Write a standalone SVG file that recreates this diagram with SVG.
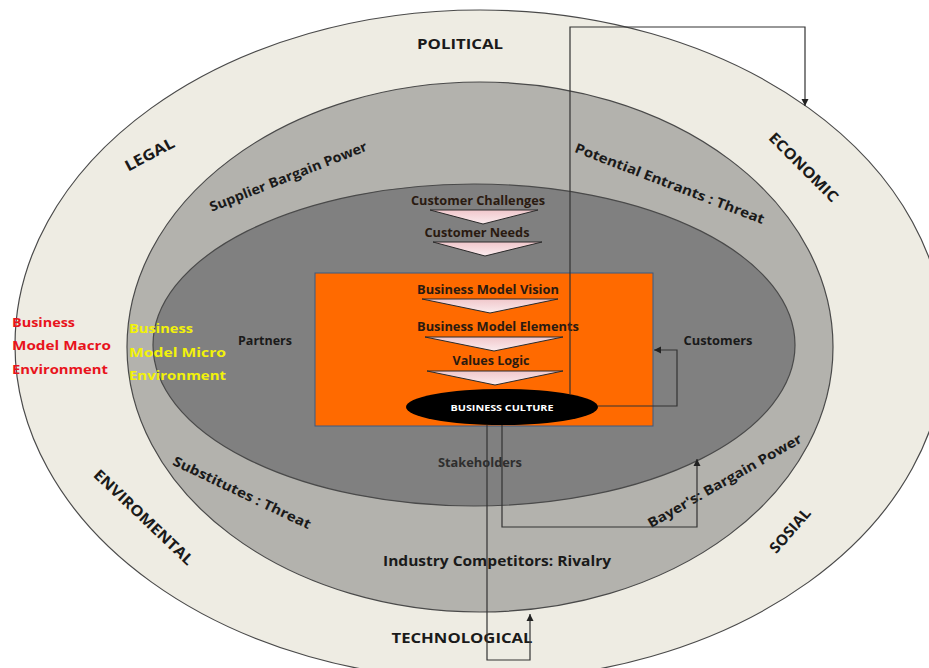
<svg xmlns="http://www.w3.org/2000/svg" width="929" height="668" viewBox="0 0 929 668">
  <style>
    .ring { stroke: #4a4a4a; stroke-width: 1.2; }
    .lbl { font-family: "Open Sans", "Liberation Sans", sans-serif; font-weight: bold; fill: #1a1a1a; text-anchor: middle; }
    .big { font-size: 15px; }
    .mid { font-size: 13.5px; }
    .sm { font-size: 12px; }
    .flow { font-size: 12px; fill: #2a1a10; }
    .chev { stroke: #2a2a2a; stroke-width: 1; }
    .conn { fill: none; stroke: #333; stroke-width: 1.2; }
    .side { font-family: "Open Sans", "Liberation Sans", sans-serif; font-weight: bold; font-size: 13px; }
  </style>
  <defs>
    <linearGradient id="chevFill" x1="0" y1="0" x2="0" y2="1">
      <stop offset="0" stop-color="#f0c7cb"/>
      <stop offset="1" stop-color="#fbecee"/>
    </linearGradient>
    <marker id="arrow" viewBox="0 0 10 10" refX="10" refY="5" markerWidth="6" markerHeight="6" orient="auto">
      <path d="M0,0 L10,5 L0,10 z" fill="#222"/>
    </marker>
  </defs>

  <rect width="929" height="668" fill="#ffffff"/>

  <!-- PESTEL macro ring -->
  <g id="macro-ring">
    <ellipse class="ring" cx="480" cy="345" rx="465" ry="335" fill="#eeece3"/>
  </g>
  <!-- Porter's forces ring -->
  <g id="forces-ring">
    <ellipse class="ring" cx="480" cy="347" rx="353" ry="265" fill="#b3b2ad"/>
  </g>
  <!-- Stakeholder core -->
  <g id="stakeholder-core">
    <ellipse class="ring" cx="474" cy="345" rx="321" ry="161" fill="#808080"/>
  </g>

  <!-- Macro factors -->
  <g id="political"><text class="lbl big" x="460" y="49" textLength="86" lengthAdjust="spacingAndGlyphs">POLITICAL</text></g>
  <g id="legal"><text class="lbl big" transform="translate(152,159) rotate(-28)" textLength="54" lengthAdjust="spacingAndGlyphs">LEGAL</text></g>
  <g id="economic"><text class="lbl big" transform="translate(800,171) rotate(45)" textLength="91" lengthAdjust="spacingAndGlyphs">ECONOMIC</text></g>
  <g id="enviromental"><text class="lbl big" transform="translate(140,521) rotate(43.5)" textLength="131" lengthAdjust="spacingAndGlyphs">ENVIROMENTAL</text></g>
  <g id="sosial"><text class="lbl big" transform="translate(794,534) rotate(-49)" textLength="54" lengthAdjust="spacingAndGlyphs">SOSIAL</text></g>
  <g id="technological"><text class="lbl big" x="462" y="643" textLength="141" lengthAdjust="spacingAndGlyphs">TECHNOLOGICAL</text></g>

  <!-- Competitive forces -->
  <g id="supplier"><text class="lbl mid" transform="translate(290,181) rotate(-21.5)" textLength="168" lengthAdjust="spacingAndGlyphs">Supplier Bargain Power</text></g>
  <g id="entrants"><text class="lbl mid" transform="translate(668,188) rotate(21)" textLength="202" lengthAdjust="spacingAndGlyphs">Potential Entrants : Threat</text></g>
  <g id="substitutes"><text class="lbl mid" transform="translate(240,497) rotate(25.4)" textLength="151" lengthAdjust="spacingAndGlyphs">Substitutes : Threat</text></g>
  <g id="buyers"><text class="lbl mid" transform="translate(727,485) rotate(-29.7)" textLength="175" lengthAdjust="spacingAndGlyphs">Bayer's: Bargain Power</text></g>
  <g id="rivalry"><text class="lbl mid" x="497" y="566" textLength="228" lengthAdjust="spacingAndGlyphs">Industry Competitors: Rivalry</text></g>

  <!-- Stakeholders -->
  <g id="partners"><text class="lbl sm" x="265" y="345" textLength="54" lengthAdjust="spacingAndGlyphs">Partners</text></g>
  <g id="customers"><text class="lbl sm" x="718" y="345" textLength="69" lengthAdjust="spacingAndGlyphs">Customers</text></g>
  <g id="stakeholders"><text class="lbl sm" x="480" y="467" style="fill:#2e2e2e" textLength="84" lengthAdjust="spacingAndGlyphs">Stakeholders</text></g>

  <!-- Environment captions -->
  <g id="macro-caption">
    <text class="side" fill="#e8141c" x="12" y="327" textLength="63" lengthAdjust="spacingAndGlyphs">Business</text>
    <text class="side" fill="#e8141c" x="12" y="350" textLength="99" lengthAdjust="spacingAndGlyphs">Model Macro</text>
    <text class="side" fill="#e8141c" x="12" y="374" textLength="96" lengthAdjust="spacingAndGlyphs">Environment</text>
  </g>
  <g id="micro-caption">
    <text class="side" fill="#f2f20a" x="129" y="333" textLength="64" lengthAdjust="spacingAndGlyphs">Business</text>
    <text class="side" fill="#f2f20a" x="129" y="357" textLength="97" lengthAdjust="spacingAndGlyphs">Model Micro</text>
    <text class="side" fill="#f2f20a" x="129" y="380" textLength="97" lengthAdjust="spacingAndGlyphs">Environment</text>
  </g>

  <!-- Customer inputs -->
  <g id="customer-challenges">
    <text class="lbl flow" x="478" y="205" textLength="134" lengthAdjust="spacingAndGlyphs">Customer Challenges</text>
    <polygon class="chev" points="430,210 538,210 483,224" fill="url(#chevFill)"/>
  </g>
  <g id="customer-needs">
    <text class="lbl flow" x="477" y="237" textLength="105" lengthAdjust="spacingAndGlyphs">Customer Needs</text>
    <polygon class="chev" points="433,242 542,242 485,256" fill="url(#chevFill)"/>
  </g>

  <!-- Business model box -->
  <g id="business-model">
    <rect x="315" y="273" width="338" height="153" fill="#ff6a00" stroke="#3d5a80" stroke-width="1"/>
  </g>
  <g id="bm-vision">
    <text class="lbl flow" x="488" y="294" textLength="142" lengthAdjust="spacingAndGlyphs">Business Model Vision</text>
    <polygon class="chev" points="422,299 558,299 490,313" fill="url(#chevFill)"/>
  </g>
  <g id="bm-elements">
    <text class="lbl flow" x="498" y="331" textLength="162" lengthAdjust="spacingAndGlyphs">Business Model Elements</text>
    <polygon class="chev" points="425,337 563,337 494,351" fill="url(#chevFill)"/>
  </g>
  <g id="values-logic">
    <text class="lbl flow" x="491" y="365" textLength="77" lengthAdjust="spacingAndGlyphs">Values Logic</text>
    <polygon class="chev" points="427,371 563,371 495,385" fill="url(#chevFill)"/>
  </g>
  <g id="business-culture">
    <ellipse cx="502" cy="407" rx="96" ry="18" fill="#000"/>
    <text x="502" y="411" text-anchor="middle" font-family="'Open Sans', 'Liberation Sans', sans-serif" font-weight="bold" font-size="9.5" fill="#ffffff" textLength="103" lengthAdjust="spacingAndGlyphs">BUSINESS CULTURE</text>
  </g>

  <!-- Feedback connectors -->
  <g id="connectors">
    <polyline class="conn" points="570,394 570,27 805,27 805,106" marker-end="url(#arrow)"/>
    <polyline class="conn" points="598,406 677,406 677,350 654,350" marker-end="url(#arrow)"/>
    <polyline class="conn" points="487,425 487,660 530,660 530,614" marker-end="url(#arrow)"/>
    <polyline class="conn" points="502,425 502,527 697,527 697,459" marker-end="url(#arrow)"/>
  </g>
</svg>
